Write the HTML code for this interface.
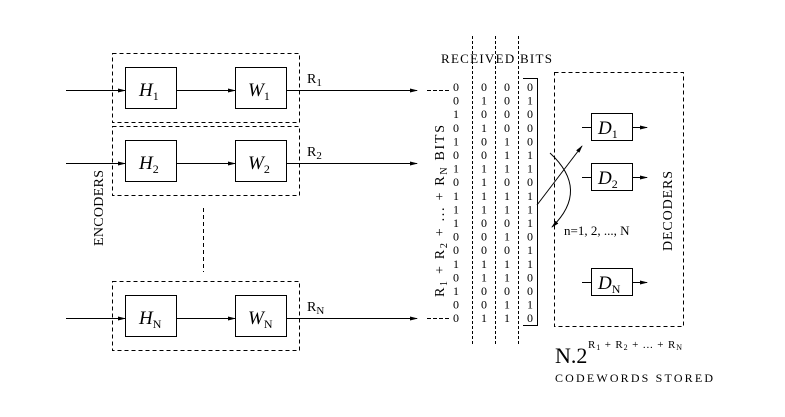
<!DOCTYPE html>
<html><head><meta charset="utf-8"><style>
html,body{margin:0;padding:0;background:#fff}
svg{display:block}
text{font-family:"Liberation Serif",serif;fill:#000}
.m{font-family:"Liberation Mono",monospace;font-size:12px}
</style></head><body>
<svg width="785" height="417" viewBox="0 0 785 417" xmlns="http://www.w3.org/2000/svg">
<defs><marker id="a" markerWidth="8" markerHeight="6" refX="7" refY="3" orient="auto" markerUnits="userSpaceOnUse"><path d="M0,1 L8,3 L0,5 z" fill="#000"/></marker></defs>
<g stroke="#000" fill="none" stroke-width="1">
<rect x="112.5" y="53.5" width="187" height="69" stroke-dasharray="4,3"/>
<rect x="112.5" y="126.5" width="187" height="69" stroke-dasharray="4,3"/>
<rect x="112.5" y="281.5" width="187" height="69" stroke-dasharray="4,3"/>
<line x1="203.5" y1="208" x2="203.5" y2="272" stroke-dasharray="4,3"/>
<rect x="125.5" y="67.5" width="51" height="41"/><rect x="235.5" y="67.5" width="51" height="41"/>
<rect x="125.5" y="140.5" width="51" height="41"/><rect x="235.5" y="140.5" width="51" height="41"/>
<rect x="125.5" y="295.5" width="51" height="41"/><rect x="235.5" y="295.5" width="51" height="41"/>
<g marker-end="url(#a)">
<line x1="66" y1="90.5" x2="125" y2="90.5"/><line x1="176" y1="90.5" x2="235" y2="90.5"/><line x1="286" y1="90.5" x2="417" y2="90.5"/>
<line x1="66" y1="163.5" x2="125" y2="163.5"/><line x1="176" y1="163.5" x2="235" y2="163.5"/><line x1="286" y1="163.5" x2="417" y2="163.5"/>
<line x1="66" y1="318.5" x2="125" y2="318.5"/><line x1="176" y1="318.5" x2="235" y2="318.5"/><line x1="286" y1="318.5" x2="417" y2="318.5"/>
</g>
<line x1="427" y1="90.5" x2="451" y2="90.5" stroke-dasharray="4,2"/>
<line x1="427" y1="318.5" x2="451" y2="318.5" stroke-dasharray="4,2"/>
<line x1="472.5" y1="36" x2="472.5" y2="346" stroke-dasharray="3,2"/>
<line x1="495.5" y1="36" x2="495.5" y2="346" stroke-dasharray="3,2"/>
<line x1="518.5" y1="36" x2="518.5" y2="346" stroke-dasharray="3,2"/>
<path d="M523,78.5 H537.5 V325.5 H523"/>
<rect x="554.5" y="72.5" width="129" height="254" stroke-dasharray="4,3"/>
<rect x="591.5" y="113.5" width="41" height="27"/>
<rect x="591.5" y="163.5" width="41" height="27"/>
<rect x="591.5" y="268.5" width="41" height="27"/>
<line x1="582" y1="127.5" x2="591" y2="127.5"/><line x1="582" y1="177.5" x2="591" y2="177.5"/><line x1="582" y1="282.5" x2="591" y2="282.5"/>
<g marker-end="url(#a)">
<line x1="632" y1="127.5" x2="647" y2="127.5"/><line x1="632" y1="177.5" x2="647" y2="177.5"/><line x1="632" y1="282.5" x2="647" y2="282.5"/>
<line x1="537" y1="205" x2="582" y2="146"/>
<path d="M550,153 Q590,190 552,227"/>
</g>
</g>
<g font-style="italic" font-size="19">
<text x="139" y="96">H<tspan font-size="12" font-style="normal" dy="4">1</tspan></text>
<text x="248" y="96">W<tspan font-size="12" font-style="normal" dy="4">1</tspan></text>
<text x="139" y="169">H<tspan font-size="12" font-style="normal" dy="4">2</tspan></text>
<text x="248" y="169">W<tspan font-size="12" font-style="normal" dy="4">2</tspan></text>
<text x="139" y="324">H<tspan font-size="12" font-style="normal" dy="4">N</tspan></text>
<text x="248" y="324">W<tspan font-size="12" font-style="normal" dy="4">N</tspan></text>
<text x="598" y="134">D<tspan font-size="12" font-style="normal" dy="4">1</tspan></text>
<text x="598" y="184">D<tspan font-size="12" font-style="normal" dy="4">2</tspan></text>
<text x="598" y="289">D<tspan font-size="12" font-style="normal" dy="4">N</tspan></text>
</g>
<g font-size="14">
<text x="307" y="83">R<tspan font-size="11" dy="3">1</tspan></text>
<text x="307" y="156">R<tspan font-size="11" dy="3">2</tspan></text>
<text x="307" y="311">R<tspan font-size="11" dy="3">N</tspan></text>
</g>
<text font-size="14" transform="translate(103,246) rotate(-90)" textLength="76">ENCODERS</text>
<text font-size="14" transform="translate(672,251) rotate(-90)" textLength="80">DECODERS</text>
<text font-size="13" x="441" y="63" textLength="111">RECEIVED BITS</text>
<text font-size="14" transform="translate(444,297) rotate(-90)" textLength="172">R<tspan font-size="10" dy="3">1</tspan><tspan dy="-3">  +  R</tspan><tspan font-size="10" dy="3">2</tspan><tspan dy="-3"> + ... + R</tspan><tspan font-size="10" dy="3">N</tspan><tspan dy="-3">   BITS</tspan></text>
<text font-size="13" x="564" y="235">n=1, 2, ..., N</text>
<text font-size="22" x="555" y="363">N.2</text>
<text font-size="11" x="588" y="348" textLength="94">R<tspan font-size="8" dy="2">1</tspan><tspan dy="-2">   +   R</tspan><tspan font-size="8" dy="2">2</tspan><tspan dy="-2">  + ... +   R</tspan><tspan font-size="8" dy="2">N</tspan></text>
<text font-size="12" x="555" y="382" textLength="158">CODEWORDS STORED</text>
<g class="m" text-anchor="middle">
<text x="456" y="91">0</text><text x="456" y="104.6">0</text><text x="456" y="118.2">1</text><text x="456" y="131.8">0</text><text x="456" y="145.4">1</text><text x="456" y="159">0</text><text x="456" y="172.6">1</text><text x="456" y="186.2">0</text><text x="456" y="199.8">1</text><text x="456" y="213.4">1</text><text x="456" y="227">1</text><text x="456" y="240.6">0</text><text x="456" y="254.2">0</text><text x="456" y="267.8">1</text><text x="456" y="281.4">0</text><text x="456" y="295">1</text><text x="456" y="308.6">0</text><text x="456" y="322.2">0</text>
<text x="484" y="91">0</text><text x="484" y="104.6">1</text><text x="484" y="118.2">0</text><text x="484" y="131.8">1</text><text x="484" y="145.4">0</text><text x="484" y="159">0</text><text x="484" y="172.6">1</text><text x="484" y="186.2">1</text><text x="484" y="199.8">1</text><text x="484" y="213.4">1</text><text x="484" y="227">0</text><text x="484" y="240.6">0</text><text x="484" y="254.2">0</text><text x="484" y="267.8">1</text><text x="484" y="281.4">1</text><text x="484" y="295">0</text><text x="484" y="308.6">0</text><text x="484" y="322.2">1</text>
<text x="507" y="91">0</text><text x="507" y="104.6">0</text><text x="507" y="118.2">0</text><text x="507" y="131.8">0</text><text x="507" y="145.4">1</text><text x="507" y="159">1</text><text x="507" y="172.6">1</text><text x="507" y="186.2">0</text><text x="507" y="199.8">1</text><text x="507" y="213.4">1</text><text x="507" y="227">0</text><text x="507" y="240.6">1</text><text x="507" y="254.2">0</text><text x="507" y="267.8">1</text><text x="507" y="281.4">1</text><text x="507" y="295">0</text><text x="507" y="308.6">1</text><text x="507" y="322.2">1</text>
<text x="530" y="91">0</text><text x="530" y="104.6">1</text><text x="530" y="118.2">0</text><text x="530" y="131.8">0</text><text x="530" y="145.4">0</text><text x="530" y="159">1</text><text x="530" y="172.6">1</text><text x="530" y="186.2">0</text><text x="530" y="199.8">1</text><text x="530" y="213.4">1</text><text x="530" y="227">1</text><text x="530" y="240.6">0</text><text x="530" y="254.2">1</text><text x="530" y="267.8">1</text><text x="530" y="281.4">0</text><text x="530" y="295">0</text><text x="530" y="308.6">1</text><text x="530" y="322.2">0</text>
</g>
</svg>
</body></html>
